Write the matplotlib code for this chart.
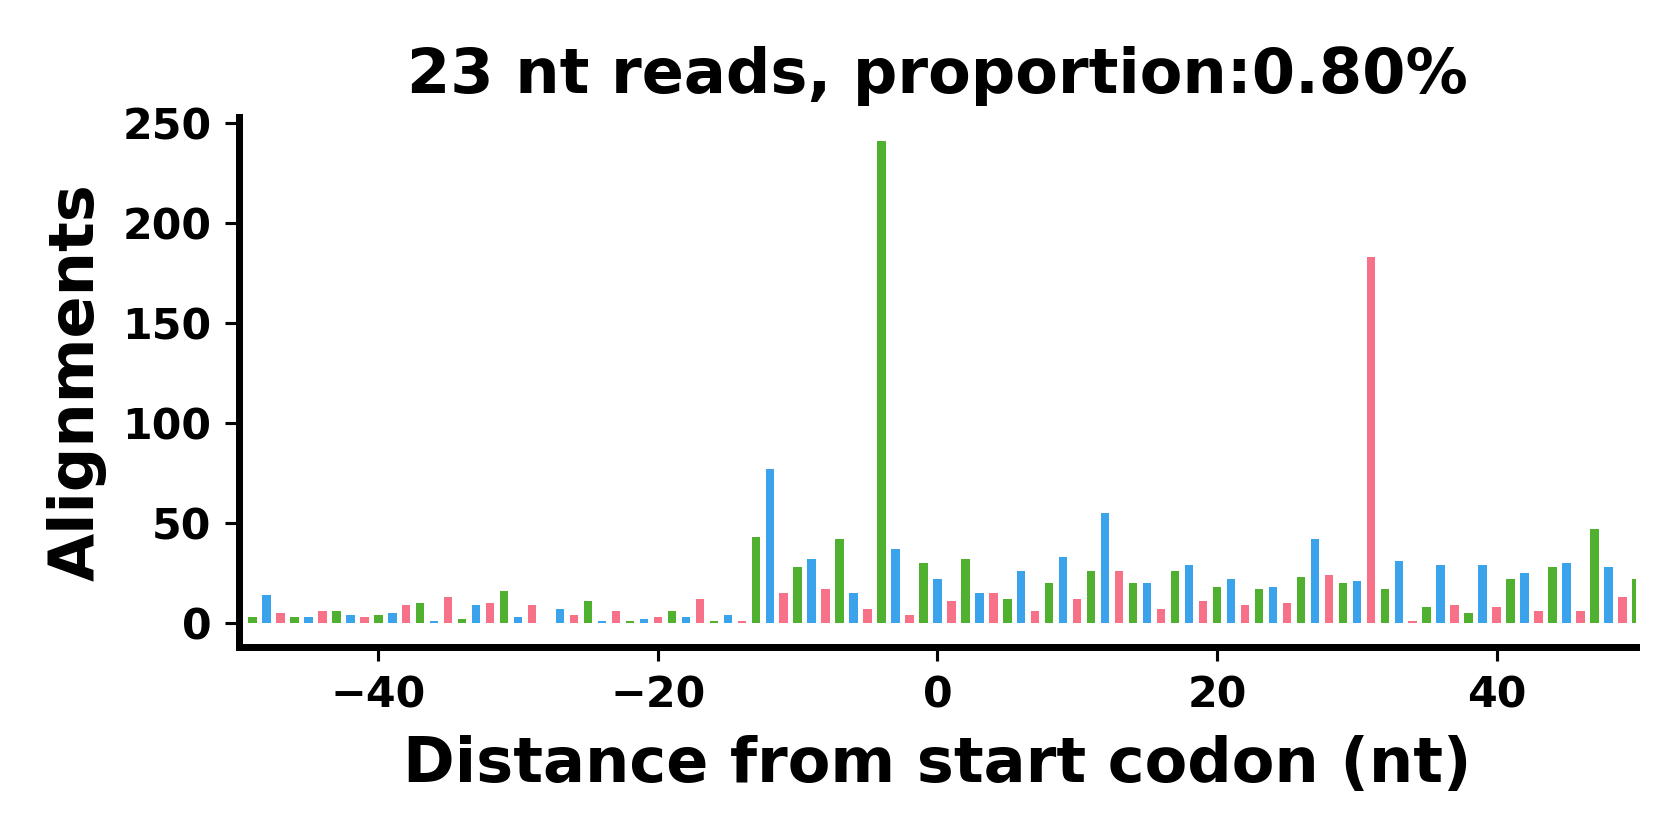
import numpy as np
import matplotlib
matplotlib.use('Agg')
import matplotlib.pyplot as plt

# posicoes relativas ao codon de inicio (-50 .. 50)
posicoes = np.arange(-50, 51)

# contagens
contagens = [
    1, 3, 14, 5, 3, 3, 6, 6, 4, 3,        # -50 .. -41
    4, 5, 9, 10, 1, 13, 2, 9, 10, 16,     # -40 .. -31
    3, 9, 0, 7, 4, 11, 1, 6, 1, 2,        # -30 .. -21
    3, 6, 3, 12, 1, 4, 1, 43, 77, 15,     # -20 .. -11
    28, 32, 17, 42, 15, 7, 241, 37, 4, 30,  # -10 .. -1
    22, 11, 32, 15, 15, 12, 26, 6, 20, 33,  # 0 .. 9
    12, 26, 55, 26, 20, 20, 7, 26, 29, 11,  # 10 .. 19
    18, 22, 9, 17, 18, 10, 23, 42, 24, 20,  # 20 .. 29
    21, 183, 17, 31, 1, 8, 29, 9, 5, 29,    # 30 .. 39
    8, 22, 25, 6, 28, 30, 6, 47, 28, 13,    # 40 .. 49
    22,                                     # 50
]

# cores por frame (paleta husl de 3 cores)
cores_frame = {0: '#3ba3ec', 1: '#f77189', 2: '#50b131'}
cores = [cores_frame[p % 3] for p in posicoes]

titulo = '23 nt reads, proportion:0.80%'

fig, ax = plt.subplots(figsize=(6, 3), dpi=280)
fig.subplots_adjust(left=0.142, right=0.974, bottom=0.230, top=0.861)

ax.bar(posicoes, contagens, width=0.6, color=cores)

# margem de 5% abaixo e acima, como no original
topo = max(contagens)
ax.set_ylim(-0.05 * topo, 1.05 * topo)
ax.set_xlim(-50, 50)

ax.set_title(titulo, fontsize=16, fontweight='bold')
ax.set_xlabel('Distance from start codon (nt)', fontsize=16, fontweight='bold', labelpad=5)
ax.set_ylabel('Alignments', fontsize=16, fontweight='bold', labelpad=4)

ax.spines['top'].set_visible(False)
ax.spines['right'].set_visible(False)
ax.spines['left'].set_linewidth(1.8)
ax.spines['bottom'].set_linewidth(1.8)

for rotulo in ax.get_xticklabels() + ax.get_yticklabels():
    rotulo.set_fontweight('bold')
ax.tick_params(labelsize=11)

fig.savefig('out.png', dpi=280)
